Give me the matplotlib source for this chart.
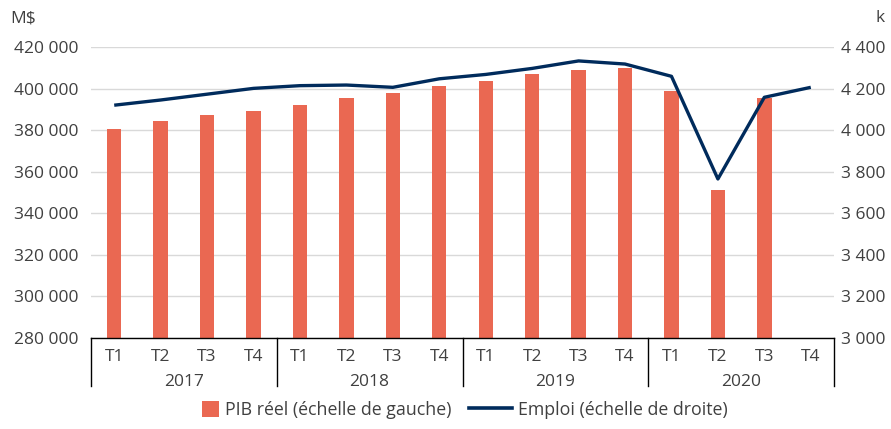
import matplotlib
matplotlib.use("Agg")
import matplotlib.pyplot as plt
import matplotlib.transforms as mtransforms
from matplotlib.lines import Line2D
from matplotlib.patches import Patch, Rectangle
from matplotlib.legend_handler import HandlerPatch
from matplotlib.ticker import FuncFormatter

plt.rcParams['font.family'] = ['Open Sans', 'DejaVu Sans']

years = ["2017", "2018", "2019", "2020"]
quarters = ["T1", "T2", "T3", "T4"]
pib = [380700, 384300, 387450, 389200,
       392000, 395300, 397700, 401100,
       403500, 407200, 408800, 409900,
       398850, 351400, 395500, None]
emploi = [4120, 4145, 4173, 4201,
          4214, 4217, 4206, 4247,
          4268, 4297, 4333, 4318,
          4259, 3765, 4158, 4206]

bar_color = "#EA6852"
line_color = "#002B5C"
text_color = "#404040"
grid_color = "#D9D9D9"

W, H = 891, 429
fig = plt.figure(figsize=(W / 100, H / 100), dpi=100)
ax = fig.add_axes([91 / W, 1 - 338 / H, (834 - 91) / W, (338 - 47) / H])
ax2 = ax.twinx()

n = len(emploi)
xs = list(range(n))
bx = [x for x, v in zip(xs, pib) if v is not None]
bv = [v for v in pib if v is not None]
ax.bar(bx, [v - 280000 for v in bv], bottom=280000, width=0.31, color=bar_color, zorder=2)
ax2.plot(xs, emploi, color=line_color, lw=2.4, zorder=3, solid_capstyle='butt')

ax.set_xlim(-0.5, n - 0.5)
ax.set_ylim(280000, 420000)
ax2.set_ylim(3000, 4400)
ax.set_yticks(range(280000, 420001, 20000))
ax2.set_yticks(range(3000, 4401, 200))

def fmt(v, pos):
    return f"{int(v):,}".replace(",", " ")

ax.yaxis.set_major_formatter(FuncFormatter(fmt))
ax2.yaxis.set_major_formatter(FuncFormatter(fmt))
ax.grid(axis='y', color=grid_color, lw=1, zorder=0)
ax.set_axisbelow(True)
for a in (ax, ax2):
    for s in a.spines.values():
        s.set_visible(False)
    a.tick_params(length=0, labelsize=12.5, colors=text_color)
ax.tick_params(axis='y', pad=9)
ax2.tick_params(axis='y', pad=5)
ax.set_xticks([])
ax.spines['bottom'].set_visible(True)
ax.spines['bottom'].set_color("#000000")
ax.spines['bottom'].set_linewidth(1)

trans = mtransforms.blended_transform_factory(ax.transData, fig.transFigure)
y_q = 1 - 357 / H
y_y = 1 - 382 / H
for i in range(n):
    fig.text(0, 0, quarters[i % 4], transform=trans, ha='center', va='center',
             fontsize=12.5, color=text_color).set_position((i, y_q))
for j, yr in enumerate(years):
    fig.text(0, 0, yr, transform=trans, ha='center', va='center',
             fontsize=12.5, color=text_color).set_position((j * 4 + 1.5, y_y))
for k in range(len(years) + 1):
    xb = k * 4 - 0.5
    fig.add_artist(Line2D([xb, xb], [1 - 338 / H, 1 - 386 / H], transform=trans,
                          color="#000000", lw=1, clip_on=False))

fig.text(10 / W, 1 - 18 / H, "M$", ha='left', va='center', fontsize=12.5, color=text_color)
fig.text(885 / W, 1 - 18 / H, "k", ha='right', va='center', fontsize=12.5, color=text_color)


def square_patch(legend, orig_handle, xdescent, ydescent, width, height, fontsize):
    s = height * 1.05
    return Rectangle((width - s - xdescent, -ydescent + (height - s) / 2), s, s)


handles = [Patch(facecolor=bar_color, edgecolor='none'),
           Line2D([0], [0], color=line_color, lw=2.6)]
labels = ["PIB réel (échelle de gauche)", "Emploi (échelle de droite)"]
fig.legend(handles, labels, loc='center', bbox_to_anchor=(452 / W, 1 - 410 / H),
           ncol=2, frameon=False, fontsize=12.8, labelcolor=text_color,
           handlelength=2.4, handleheight=1.0, handletextpad=0.35, columnspacing=1.0,
           handler_map={Patch: HandlerPatch(patch_func=square_patch)})

fig.savefig("out.png", dpi=100)
